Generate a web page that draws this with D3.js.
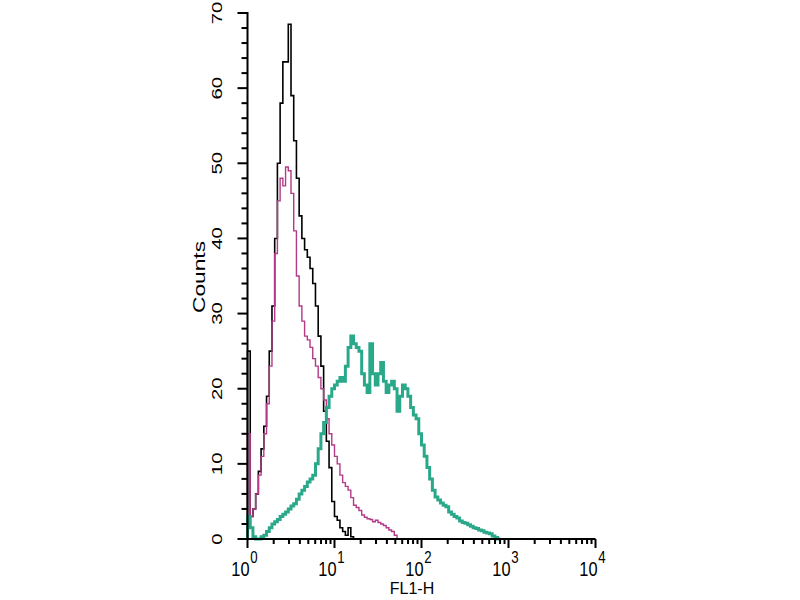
<!DOCTYPE html>
<html>
<head>
<meta charset="utf-8">
<script src="https://cdn.jsdelivr.net/npm/d3@7"></script>
<style>
  body { margin: 0; background: #fff; }
  svg { display: block; }
  text { font-family: "Liberation Sans", Arial, sans-serif; fill: #000; }
</style>
</head>
<body>
<svg id="chart" width="800" height="600"></svg>
<script>
// histogram channels, 32 per decade starting at 10^0
const binsPerDecade = 32;

const blackCounts = [25, 3, 4, 6, 9, 12, 15, 19, 25, 31, 40, 50, 58, 63.5, 63.5, 68.5,
  59, 53, 48, 43, 40, 38.5, 37.5, 36, 34, 31, 27, 23, 17, 13, 9.5, 5, 3, 2.5, 1.5, 1,
  0.5, 1.5, 0.3, 0, 0, 0, 0, 0, 0, 0, 0, 0, 0, 0, 0, 0, 0, 0, 0, 0];

const magentaCounts = [14, 3, 4, 6, 8.5, 11, 14, 18, 23, 29, 38, 45, 48, 47, 49.5, 49,
  46, 41, 35, 31, 29, 27, 26.5, 25.5, 24, 23, 21.5, 20, 18.5, 16, 14, 12.5, 11, 10,
  8.5, 7.5, 7, 6.5, 5.5, 4.5, 4.2, 3.8, 3.2, 2.9, 2.7, 2.6, 2.3, 2.5, 2.2, 2, 1.8,
  1.5, 1.2, 1, 0.5, 0];

const tealCounts = [3, 1.5, 0.3, 0, 0, 0.3, 0.5, 1, 1.5, 2, 2.3, 2.6, 3, 3.3, 3.6, 4,
  4.4, 4.7, 5.3, 6, 6.5, 7, 7.6, 8, 8.5, 10, 12, 14, 15.5, 17.5, 19, 20, 20.5, 21,
  21.5, 21, 23, 25.5, 27, 26, 25.5, 25, 22, 20.5, 19.5, 26, 22, 20.5, 22, 23.5, 21,
  19.5, 20.5, 21, 20, 17, 19, 20.5, 20, 19, 17.5, 16.5, 16, 14, 12.5, 11, 9.5, 8,
  6.5, 5.6, 5.2, 4.8, 4.5, 4.3, 3.6, 3.3, 3, 2.8, 2.4, 2.2, 2.1, 1.9, 1.7, 1.5, 1.4,
  1.2, 1.1, 0.9, 0.8, 0.7, 0.4, 0.2, 0];

const yTicks = [0, 10, 20, 30, 40, 50, 60, 70];
const xDecades = [0, 1, 2, 3, 4];
const xTitle = "FL1-H";
const yTitle = "Counts";

const svg = d3.select("#chart");

const x = d3.scaleLog().domain([1, 1e4]).range([247.5, 595.5]);
const y = d3.scaleLinear().domain([0, 70]).range([539, 13]);

let drawHist = (counts, color, width) => {
  let pts = [[1, 0]];
  counts.forEach((c, i) => pts.push([Math.pow(10, i / binsPerDecade), c]));
  pts.push([Math.pow(10, counts.length / binsPerDecade), 0]);

  let line = d3.line()
    .x(d => x(d[0]))
    .y(d => y(d[1]))
    .curve(d3.curveStepAfter);

  svg.append("path")
    .datum(pts)
    .attr("fill", "none")
    .attr("stroke", color)
    .attr("stroke-width", width)
    .attr("d", line);
};

drawHist(blackCounts, "#000000", 1.6);
drawHist(magentaCounts, "#b23a86", 1.4);
drawHist(tealCounts, "#2aa88a", 3);

// axes: domain lines plus ticks as rects so they cannot be lost
let yMinor = d3.range(0, 71, 2);
let xMinor = [];
xDecades.forEach(d => {
  xMinor.push(Math.pow(10, d));
  if (d < 4) for (let k = 2; k <= 9; k++) xMinor.push(k * Math.pow(10, d));
});

svg.append("rect")
  .attr("x", x(1) - 1).attr("y", y(70) - 1)
  .attr("width", 2).attr("height", y(0) - y(70) + 2)
  .attr("fill", "#000");
svg.append("rect")
  .attr("x", x(1) - 1).attr("y", y(0) - 1)
  .attr("width", x(1e4) - x(1) + 1).attr("height", 2)
  .attr("fill", "#000");

svg.selectAll(".ytick")
  .data(yMinor)
  .enter()
  .append("rect")
  .attr("class", "ytick")
  .attr("x", d => x(1) - (d % 10 === 0 ? 10 : 6))
  .attr("y", d => y(d) - 1)
  .attr("width", d => d % 10 === 0 ? 10 : 6)
  .attr("height", 2)
  .attr("fill", "#000");

svg.selectAll(".xtick")
  .data(xMinor)
  .enter()
  .append("rect")
  .attr("class", "xtick")
  .attr("x", d => x(d) - 1)
  .attr("y", y(0))
  .attr("width", 2)
  .attr("height", d => Number.isInteger(Math.log10(d)) ? 9 : 5)
  .attr("fill", "#000");

// y tick labels, rotated and stretched like the scanned figure
svg.selectAll(".ylab")
  .data(yTicks)
  .enter()
  .append("text")
  .attr("class", "ylab")
  .attr("transform", d => `translate(222,${y(d)}) rotate(-90) scale(1.45,1)`)
  .attr("text-anchor", "middle")
  .style("font-size", "14px")
  .text(d => d);

// x tick labels as 10^n
let xl = svg.selectAll(".xlab")
  .data(xDecades)
  .enter()
  .append("text")
  .attr("class", "xlab")
  .attr("transform", d => `translate(${x(Math.pow(10, d)) - 3},576) scale(0.78,1)`)
  .attr("text-anchor", "middle")
  .style("font-size", "21px");
xl.append("tspan").text("10");
xl.append("tspan").style("font-size", "17px").attr("dy", -13).attr("dx", 1).text(d => d);

svg.append("text")
  .attr("x", 412)
  .attr("y", 594)
  .attr("text-anchor", "middle")
  .style("font-size", "16px")
  .text(xTitle);

svg.append("text")
  .attr("transform", "translate(205,277) rotate(-90) scale(1.38,1)")
  .attr("text-anchor", "middle")
  .style("font-size", "16.5px")
  .text(yTitle);
</script>
</body>
</html>
